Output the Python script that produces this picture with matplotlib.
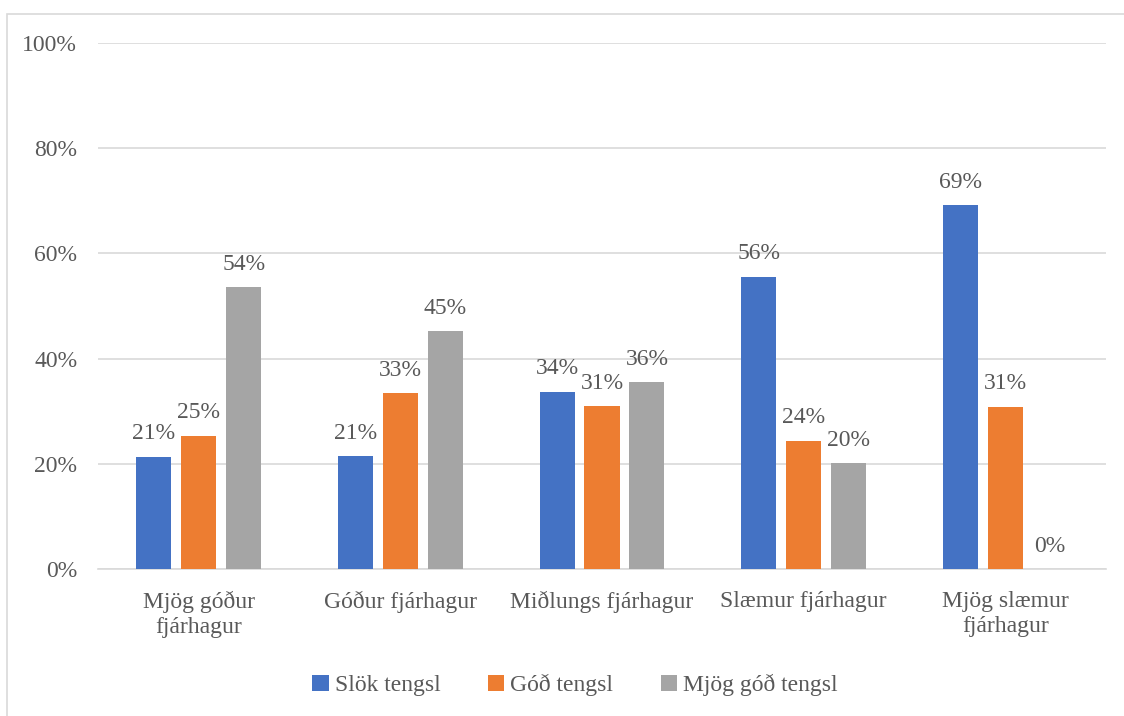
import matplotlib.pyplot as plt
import numpy as np
from matplotlib.patches import Rectangle

categories = ["Mjög góður\nfjárhagur", "Góður fjárhagur", "Miðlungs fjárhagur",
              "Slæmur fjárhagur", "Mjög slæmur\nfjárhagur"]
series = ["Slök tengsl", "Góð tengsl", "Mjög góð tengsl"]
slok = [21.3, 21.4, 33.7, 55.6, 69.2]
god = [25.3, 33.4, 30.9, 24.4, 30.8]
mjog_god = [53.6, 45.2, 35.5, 20.1, 0.0]
colors = ["#4472C4", "#ED7D31", "#A5A5A5"]

plt.rcParams["font.family"] = ["Liberation Serif", "DejaVu Serif"]
txt = "#595959"
fs = 17

fig = plt.figure(figsize=(11.24, 7.16), dpi=100)
fig.patches.append(Rectangle((7 / 1124, -0.01), 1.2, 1 - 14 / 716 + 0.01,
                             transform=fig.transFigure, fill=False,
                             edgecolor="#d9d9d9", linewidth=1.2))
ax = fig.add_axes([98 / 1124, 1 - 569 / 716, 1008 / 1124, 526 / 716])

x = np.arange(len(categories))
w = 0.174
step = 0.223
for i, (vals, name) in enumerate(zip([slok, god, mjog_god], series)):
    bars = ax.bar(x + (i - 1) * step, vals, w, color=colors[i], label=name, zorder=3)
    for b, v in zip(bars, vals):
        ax.annotate(f"{v:.0f}%", (b.get_x() + b.get_width() / 2, v),
                    xytext=(0, 9), textcoords="offset points",
                    ha="center", va="bottom", fontsize=fs, color=txt)

ax.set_xlim(-0.5, len(categories) - 0.5)
ax.set_ylim(0, 100)
ax.set_yticks(range(0, 101, 20))
ax.set_yticklabels([f"{t}%" for t in range(0, 101, 20)])
ax.set_xticks(x)
ax.set_xticklabels(categories, linespacing=1.25)
ax.yaxis.grid(True, color="#d9d9d9", linewidth=1.2, zorder=0)
for s in ["top", "right", "left"]:
    ax.spines[s].set_visible(False)
ax.spines["bottom"].set_color("#d9d9d9")
ax.spines["bottom"].set_linewidth(1.2)
ax.tick_params(axis="both", length=0, labelsize=fs, colors=txt)
ax.tick_params(axis="y", pad=15)
ax.tick_params(axis="x", pad=16)

fig.legend(loc="center", bbox_to_anchor=(575 / 1124, 1 - 685 / 716), ncol=3,
           frameon=False, fontsize=fs, labelcolor=txt, handlelength=0.7,
           handleheight=0.7, handletextpad=0.25, columnspacing=2.0)

fig.savefig("out.png", dpi=100)
